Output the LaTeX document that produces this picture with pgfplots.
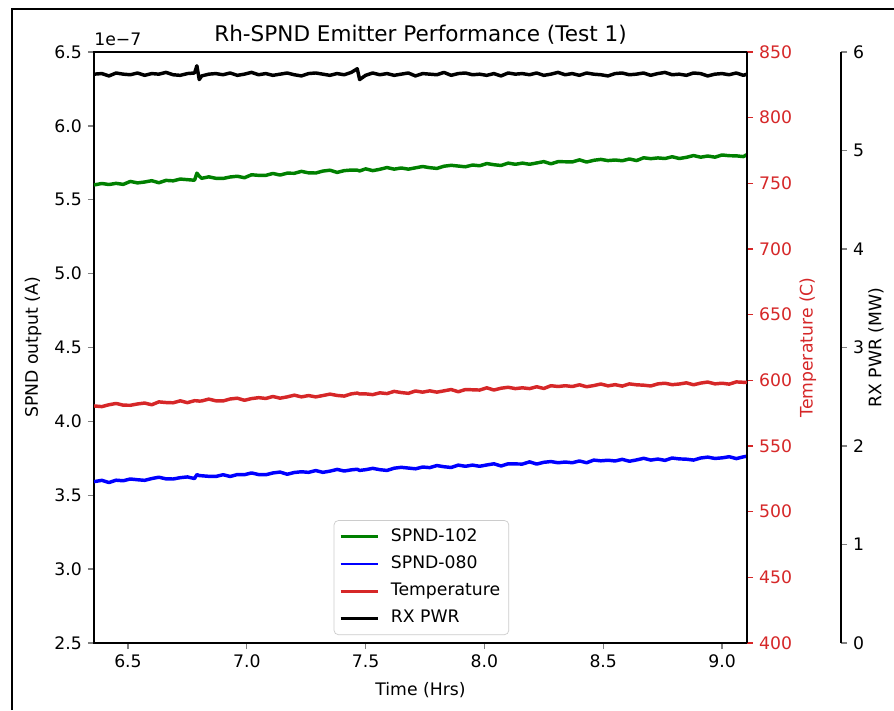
\documentclass[border=0pt]{standalone}
\usepackage{fontspec}
\setmainfont{DejaVu Sans}
\usepackage{pgfplots}
\usepackage{pgfplotstable}
\pgfplotsset{compat=1.18}

\definecolor{tred}{RGB}{214,39,40}
\definecolor{mgreen}{RGB}{0,128,0}
\definecolor{mblue}{RGB}{0,0,255}

% t: time (hrs), g: SPND-102 (1e-7 A), b: SPND-080 (1e-7 A), T: temperature (C), p: RX PWR (MW)
\pgfplotstableread{
t g b T p
6.357 5.600 3.592 580.5 5.775
6.39 5.610 3.601 580.0 5.781
6.42 5.603 3.586 581.4 5.757
6.45 5.611 3.602 582.4 5.787
6.48 5.604 3.598 581.1 5.775
6.51 5.624 3.610 581.0 5.769
6.54 5.614 3.605 582.0 5.787
6.57 5.620 3.601 582.7 5.763
6.60 5.629 3.613 581.4 5.781
6.63 5.615 3.622 583.6 5.775
6.66 5.631 3.611 583.1 5.793
6.69 5.628 3.610 582.9 5.769
6.72 5.640 3.619 584.4 5.763
6.75 5.636 3.624 583.0 5.781
6.78 5.632 3.613 584.5 5.787
6.79 5.680 3.640 584.4 5.860
6.80 5.660 3.633 584.2 5.720
6.81 5.645 3.632 584.3 5.757
6.84 5.655 3.628 585.7 5.775
6.87 5.645 3.627 584.4 5.781
6.90 5.644 3.639 584.3 5.769
6.93 5.654 3.627 585.8 5.787
6.96 5.659 3.640 586.4 5.763
6.99 5.649 3.639 584.8 5.775
7.02 5.669 3.651 586.1 5.793
7.05 5.665 3.640 586.8 5.769
7.08 5.665 3.639 586.2 5.781
7.11 5.678 3.651 587.7 5.763
7.14 5.667 3.657 586.4 5.775
7.17 5.680 3.642 587.4 5.787
7.20 5.679 3.654 588.7 5.769
7.23 5.692 3.659 587.4 5.757
7.26 5.682 3.655 588.4 5.781
7.29 5.681 3.667 587.4 5.787
7.32 5.694 3.655 588.4 5.775
7.35 5.700 3.663 589.5 5.763
7.38 5.685 3.675 588.5 5.781
7.41 5.697 3.664 588.0 5.769
7.44 5.701 3.672 589.7 5.793
7.465 5.700 3.676 590.3 5.830
7.475 5.695 3.668 589.6 5.720
7.50 5.709 3.673 589.7 5.763
7.53 5.697 3.682 589.1 5.787
7.56 5.706 3.673 590.5 5.769
7.59 5.718 3.668 589.9 5.781
7.62 5.707 3.683 591.6 5.763
7.65 5.715 3.689 590.7 5.775
7.68 5.707 3.684 590.1 5.787
7.71 5.716 3.679 591.9 5.757
7.74 5.725 3.691 591.0 5.781
7.77 5.717 3.687 592.0 5.775
7.80 5.712 3.701 591.0 5.769
7.83 5.727 3.693 592.0 5.793
7.86 5.733 3.688 593.0 5.763
7.89 5.728 3.704 591.3 5.781
7.92 5.723 3.696 593.0 5.787
7.95 5.735 3.704 592.8 5.769
7.98 5.730 3.696 592.6 5.775
8.01 5.745 3.705 594.3 5.763
8.04 5.737 3.713 592.6 5.781
8.07 5.732 3.698 594.0 5.757
8.10 5.748 3.713 594.7 5.787
8.13 5.740 3.712 593.7 5.775
8.16 5.748 3.711 594.3 5.781
8.19 5.740 3.726 593.7 5.769
8.22 5.749 3.711 595.1 5.787
8.25 5.758 3.723 593.8 5.763
8.28 5.743 3.728 595.9 5.775
8.31 5.758 3.720 595.3 5.793
8.34 5.757 3.725 595.9 5.769
8.37 5.756 3.720 595.3 5.781
8.40 5.770 3.732 596.6 5.763
8.43 5.755 3.720 595.1 5.787
8.46 5.767 3.738 596.0 5.775
8.49 5.773 3.733 597.2 5.769
8.52 5.765 3.737 595.8 5.757
8.55 5.769 3.732 596.7 5.781
8.58 5.764 3.743 595.6 5.787
8.61 5.776 3.730 597.3 5.769
8.64 5.765 3.739 596.6 5.775
8.67 5.784 3.750 596.3 5.787
8.70 5.778 3.738 595.7 5.763
8.73 5.783 3.745 597.3 5.781
8.76 5.779 3.736 597.8 5.793
8.79 5.791 3.752 596.7 5.769
8.82 5.779 3.746 597.2 5.775
8.85 5.787 3.744 598.1 5.763
8.88 5.799 3.738 596.6 5.787
8.91 5.788 3.752 597.9 5.781
8.94 5.796 3.758 598.7 5.757
8.97 5.788 3.749 597.3 5.775
9.00 5.803 3.753 597.8 5.781
9.03 5.798 3.761 597.1 5.769
9.06 5.797 3.748 598.8 5.787
9.09 5.792 3.760 598.5 5.763
9.105 5.806 3.764 598.4 5.775
}\spnd

\pgfplotsset{
  rhbase/.style={
    scale only axis, at={(54.52pt,38.86pt)}, anchor=south west,
    width=378.74pt, height=342.78pt,
    xmin=6.357, xmax=9.105,
    tick align=outside, major tick length=3.5pt,
    every tick/.append style={line width=0.8pt},
    axis line style={line width=0.8pt},
    tick label style={font=\fontsize{10}{12}\selectfont},
    label style={font=\fontsize{10}{12}\selectfont},
    /pgf/number format/assume math mode=true,
    every axis plot/.append style={line width=2pt, line join=round, no marks},
  },
}

\begin{document}
\begin{tikzpicture}
\useasboundingbox (0,0) rectangle (518.52pt,411.8pt);
\fill[white] (0,0) rectangle (518.52pt,411.8pt);
\draw[line width=1.2pt] (6.96pt,0) -- (6.96pt,406.58pt) -- (518.52pt,406.58pt);

% SPND currents
\begin{axis}[rhbase,
  ymin=2.5, ymax=6.5,
  xtick={6.5,7,7.5,8,8.5,9},
  ytick={2.5,3,3.5,4,4.5,5,5.5,6,6.5},
  xtick pos=left, ytick pos=left,
  xticklabel style={/pgf/number format/.cd,fixed,fixed zerofill,precision=1},
  yticklabel style={/pgf/number format/.cd,fixed,fixed zerofill,precision=1},
  scaled y ticks=false,
  xlabel={Time (Hrs)}, ylabel={SPND output (A)},
  xlabel style={at={(axis description cs:0.5,-0.0795)}, anchor=center},
  ylabel style={at={(axis description cs:-0.0934,0.5)}, anchor=center},
  title={Rh-SPND Emitter Performance (Test 1)},
  title style={at={(0.5,1)}, anchor=base, yshift=0pt, font=\fontsize{12.5}{14}\selectfont},
  legend cell align=left,
  legend image code/.code={\draw[#1, line width=1.5pt] (0pt,0pt) -- (22pt,0pt);},
  legend style={at={(0.5014,0.0135)}, anchor=south, draw=black!20, rounded corners=2.5pt,
    fill=white, font=\fontsize{10}{12}\selectfont, inner xsep=3pt, inner ysep=1.5pt,
    row sep=0pt, column sep=4.5pt,
    nodes={inner xsep=2pt, inner ysep=3pt, text height=7.4pt, text depth=2.4pt}},
  after end axis/.code={
    \node[anchor=base west, font=\fontsize{10}{12}\selectfont, inner sep=0pt, yshift=4pt]
      at (rel axis cs:0,1) {1e−7};
  },
]
\addplot[mgreen] table[x=t,y=g]{\spnd};
\addplot[mblue] table[x=t,y=b]{\spnd};
\addlegendimage{tred}
\addlegendimage{black}
\legend{SPND-102,SPND-080,Temperature,RX PWR}
\end{axis}

% temperature
\begin{axis}[rhbase,
  ymin=400, ymax=850,
  ytick={400,450,500,550,600,650,700,750,800,850},
  axis y line*=right, hide x axis,
  tick style={tred},
  yticklabel style={text=tred},
  ylabel={Temperature (C)},
  ylabel style={text=tred, at={(axis description cs:1.0934,0.5)}, anchor=center},
]
\addplot[tred] table[x=t,y=T]{\spnd};
\end{axis}

% reactor power, offset spine
\begin{axis}[rhbase,
  width=433.26pt, xmax=9.501,
  ymin=0, ymax=6,
  ytick={0,1,2,3,4,5,6},
  axis y line*=right, hide x axis,
  ylabel={RX PWR (MW)},
  ylabel style={at={(axis description cs:1.0468,0.5)}, anchor=center},
]
\addplot[black] table[x=t,y=p]{\spnd};
\end{axis}
\end{tikzpicture}
\end{document}
